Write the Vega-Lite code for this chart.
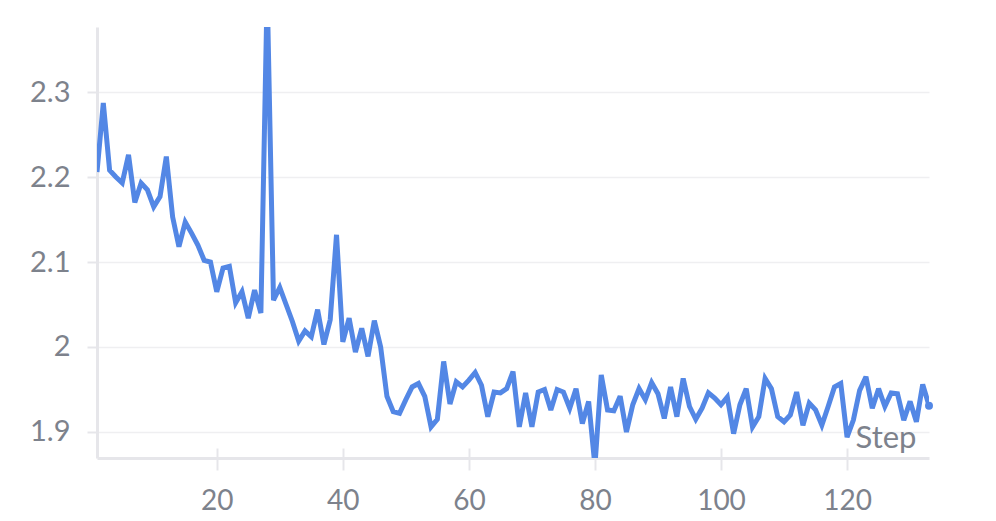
{
  "$schema": "https://vega.github.io/schema/vega-lite/v6.json",
  "autosize": {"type": "none"},
  "padding": {"left": 97, "top": 27, "right": 67, "bottom": 63},
  "width": 832,
  "height": 431,
  "background": "white",
  "config": {"view": {"stroke": null}, "font": "Lato"},
  "data": {"values": [
    {"step":1,"loss":2.206},{"step":2,"loss":2.287},{"step":3,"loss":2.208},{"step":4,"loss":2.200},{"step":5,"loss":2.193},
    {"step":6,"loss":2.226},{"step":7,"loss":2.170},{"step":8,"loss":2.193},{"step":9,"loss":2.185},{"step":10,"loss":2.165},
    {"step":11,"loss":2.177},{"step":12,"loss":2.224},{"step":13,"loss":2.153},{"step":14,"loss":2.118},{"step":15,"loss":2.147},
    {"step":16,"loss":2.134},{"step":17,"loss":2.120},{"step":18,"loss":2.102},{"step":19,"loss":2.100},{"step":20,"loss":2.065},
    {"step":21,"loss":2.093},{"step":22,"loss":2.095},{"step":23,"loss":2.052},{"step":24,"loss":2.065},{"step":25,"loss":2.034},
    {"step":26,"loss":2.067},{"step":27,"loss":2.040},{"step":28,"loss":2.42},{"step":29,"loss":2.055},{"step":30,"loss":2.070},
    {"step":31,"loss":2.050},{"step":32,"loss":2.030},{"step":33,"loss":2.007},{"step":34,"loss":2.019},{"step":35,"loss":2.012},
    {"step":36,"loss":2.044},{"step":37,"loss":2.003},{"step":38,"loss":2.032},{"step":39,"loss":2.132},{"step":40,"loss":2.006},
    {"step":41,"loss":2.034},{"step":42,"loss":1.994},{"step":43,"loss":2.022},{"step":44,"loss":1.989},{"step":45,"loss":2.031},
    {"step":46,"loss":2.000},{"step":47,"loss":1.942},{"step":48,"loss":1.924},{"step":49,"loss":1.922},{"step":50,"loss":1.938},
    {"step":51,"loss":1.953},{"step":52,"loss":1.957},{"step":53,"loss":1.942},{"step":54,"loss":1.906},{"step":55,"loss":1.915},
    {"step":56,"loss":1.983},{"step":57,"loss":1.933},{"step":58,"loss":1.959},{"step":59,"loss":1.953},{"step":60,"loss":1.961},
    {"step":61,"loss":1.970},{"step":62,"loss":1.955},{"step":63,"loss":1.918},{"step":64,"loss":1.947},{"step":65,"loss":1.946},
    {"step":66,"loss":1.951},{"step":67,"loss":1.971},{"step":68,"loss":1.906},{"step":69,"loss":1.946},{"step":70,"loss":1.906},
    {"step":71,"loss":1.947},{"step":72,"loss":1.950},{"step":73,"loss":1.926},{"step":74,"loss":1.950},{"step":75,"loss":1.947},
    {"step":76,"loss":1.928},{"step":77,"loss":1.951},{"step":78,"loss":1.910},{"step":79,"loss":1.936},{"step":80,"loss":1.86},
    {"step":81,"loss":1.967},{"step":82,"loss":1.926},{"step":83,"loss":1.925},{"step":84,"loss":1.942},{"step":85,"loss":1.900},
    {"step":86,"loss":1.932},{"step":87,"loss":1.951},{"step":88,"loss":1.938},{"step":89,"loss":1.958},{"step":90,"loss":1.945},
    {"step":91,"loss":1.916},{"step":92,"loss":1.953},{"step":93,"loss":1.918},{"step":94,"loss":1.963},{"step":95,"loss":1.930},
    {"step":96,"loss":1.915},{"step":97,"loss":1.928},{"step":98,"loss":1.946},{"step":99,"loss":1.940},{"step":100,"loss":1.932},
    {"step":101,"loss":1.941},{"step":102,"loss":1.898},{"step":103,"loss":1.932},{"step":104,"loss":1.951},{"step":105,"loss":1.906},
    {"step":106,"loss":1.918},{"step":107,"loss":1.963},{"step":108,"loss":1.951},{"step":109,"loss":1.918},{"step":110,"loss":1.912},
    {"step":111,"loss":1.920},{"step":112,"loss":1.947},{"step":113,"loss":1.908},{"step":114,"loss":1.934},{"step":115,"loss":1.926},
    {"step":116,"loss":1.908},{"step":117,"loss":1.930},{"step":118,"loss":1.953},{"step":119,"loss":1.957},{"step":120,"loss":1.894},
    {"step":121,"loss":1.914},{"step":122,"loss":1.949},{"step":123,"loss":1.965},{"step":124,"loss":1.928},{"step":125,"loss":1.951},
    {"step":126,"loss":1.930},{"step":127,"loss":1.946},{"step":128,"loss":1.945},{"step":129,"loss":1.914},{"step":130,"loss":1.936},
    {"step":131,"loss":1.912},{"step":132,"loss":1.956},{"step":133,"loss":1.931}
  ]},
  "resolve": {"axis": {"x": "independent"}},
  "layer": [
    {
      "mark": {"type": "line", "color": "#5387e5", "strokeWidth": 5, "clip": true, "strokeJoin": "miter", "strokeMiterLimit": 3},
      "encoding": {
        "x": {
          "field": "step", "type": "quantitative",
          "scale": {"domain": [1, 133], "nice": false, "zero": false},
          "axis": {
            "orient": "bottom",
            "values": [20, 40, 60, 80, 100, 120],
            "grid": false,
            "domainColor": "#e6e6ea", "domainWidth": 3,
            "tickColor": "#e6e6ea", "tickWidth": 2, "tickSize": 12,
            "labelFontSize": 28, "labelColor": "#7d828c", "labelPadding": 17, "labelFont": "Lato",
            "title": "Step", "titleFont": "Lato", "titleFontSize": 31, "titleFontWeight": "normal", "titleColor": "#7d828c",
            "titleAnchor": "end", "titleAlign": "right", "titleBaseline": "alphabetic",
            "titleX": 819, "titleY": -11
          }
        },
        "y": {
          "field": "loss", "type": "quantitative",
          "scale": {"domain": [1.8694, 2.3765], "nice": false, "zero": false},
          "axis": {
            "values": [1.9, 2, 2.1, 2.2, 2.3],
            "format": "~g",
            "grid": true, "gridColor": "#efeff1", "gridWidth": 1.5,
            "domainColor": "#e6e6ea", "domainWidth": 3,
            "tickColor": "#e6e6ea", "tickWidth": 2, "tickSize": 10,
            "labelFontSize": 29, "labelColor": "#7d828c", "labelPadding": 17, "labelFont": "Lato",
            "title": null
          }
        }
      }
    },
    {
      "transform": [{"filter": "datum.step == 133"}],
      "mark": {"type": "point", "filled": true, "color": "#5387e5", "size": 64, "opacity": 1},
      "encoding": {
        "x": {
          "field": "step", "type": "quantitative",
          "axis": {
            "orient": "bottom",
            "values": [20, 40, 60, 80, 100, 120],
            "grid": false, "domain": false, "labels": false, "title": null,
            "tickColor": "#e6e6ea", "tickWidth": 2, "tickSize": -10
          }
        },
        "y": {"field": "loss", "type": "quantitative"}
      }
    }
  ]
}
